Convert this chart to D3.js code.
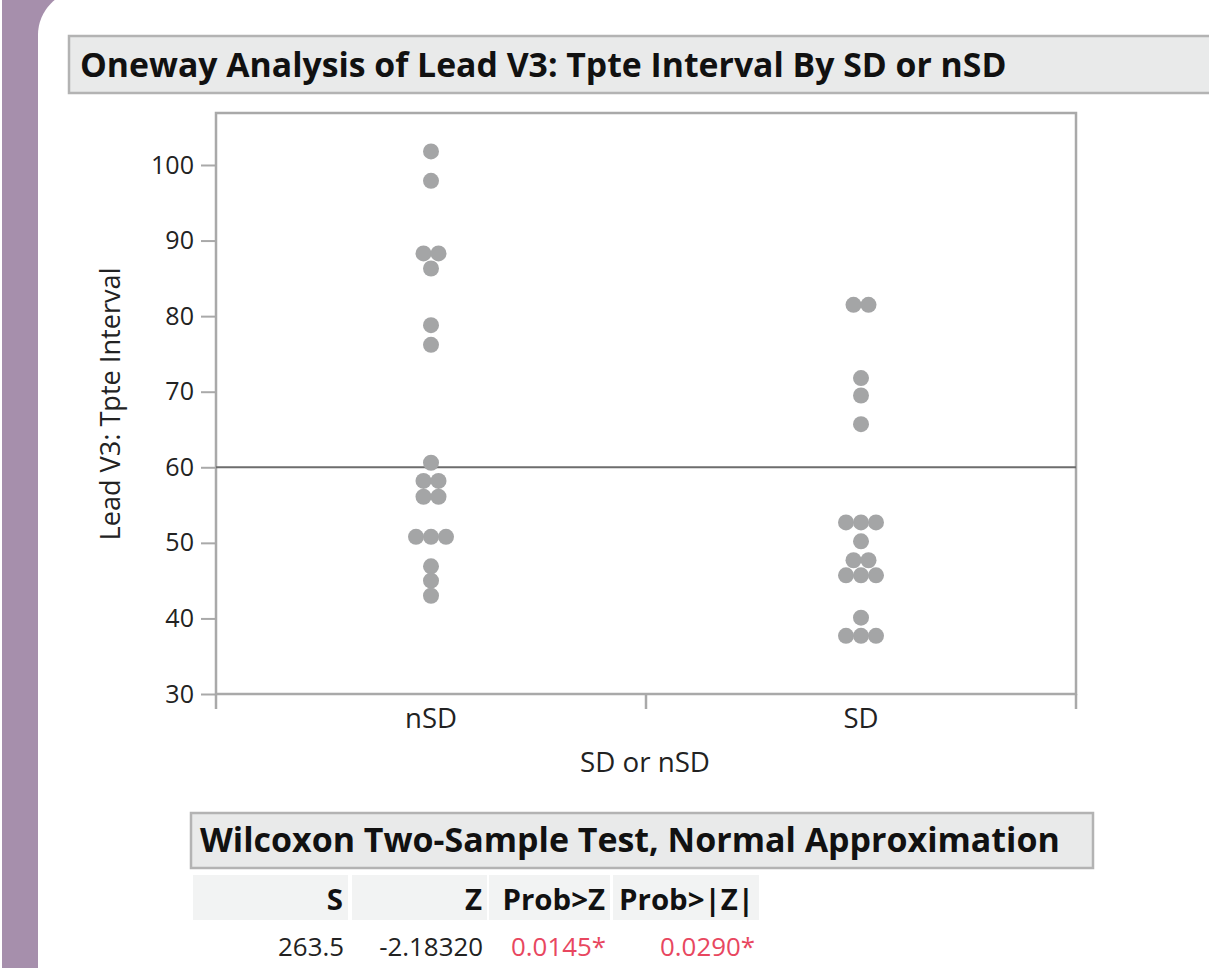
<!DOCTYPE html>
<html>
<head>
<meta charset="utf-8">
<script src="https://cdn.jsdelivr.net/npm/d3@7"></script>
<style>
  html, body { margin: 0; padding: 0; background: #ffffff; }
  svg { display: block; }
  text { font-family: "Open Sans", "Noto Sans", sans-serif; }
</style>
</head>
<body>
<svg id="chart" width="1209" height="968"></svg>
<script>
// ---- data ----
const categories = ["nSD", "SD"];
const nSDValues = [101.8, 97.9, 88.3, 88.3, 86.3, 78.8, 76.2, 60.6, 58.2, 58.2, 56.1, 56.1, 50.8, 50.8, 50.8, 46.9, 45.0, 43.0];
const sdValues  = [81.5, 81.5, 71.8, 69.5, 65.7, 52.7, 52.7, 52.7, 50.2, 47.7, 47.7, 45.7, 45.7, 45.7, 40.1, 37.7, 37.7, 37.7];
const yTicks = [30, 40, 50, 60, 70, 80, 90, 100];
const refLineValue = 60;
const chartTitle = "Oneway Analysis of Lead V3: Tpte Interval By SD or nSD";
const yTitle = "Lead V3: Tpte Interval";
const xTitle = "SD or nSD";
const tableTitle = "Wilcoxon Two-Sample Test, Normal Approximation";
const tableHeaders = ["S", "Z", "Prob>Z", "Prob>|Z|"];
const tableValues = ["263.5", "-2.18320", "0.0145*", "0.0290*"];
const tableSignificant = [false, false, true, true];

// ---- helpers ----
const svg = d3.select("#chart");
function fitWidth(sel, w) {
  const node = sel.node();
  const fs = parseFloat(sel.attr("font-size"));
  const l = node.getComputedTextLength();
  const nfs = fs * w / l;
  sel.attr("font-size", nfs);
  return nfs;
}

// ---- frame decoration (purple side band and white panel) ----
svg.append("rect").attr("x", 0).attr("y", 0).attr("width", 1209).attr("height", 968).attr("fill", "#ffffff");
svg.append("rect").attr("x", 2).attr("y", 0).attr("width", 60).attr("height", 968).attr("fill", "#a68fac");
svg.append("rect").attr("x", 38).attr("y", -10).attr("width", 1300).attr("height", 1060)
  .attr("rx", 45).attr("ry", 45).attr("fill", "#ffffff");

// ---- title bar ----
svg.append("rect").attr("x", 69).attr("y", 36).attr("width", 1160).attr("height", 57)
  .attr("fill", "#e9eaea").attr("stroke", "#b3b3b3").attr("stroke-width", 2.5);
const t1 = svg.append("text").attr("x", 80).attr("y", 77).attr("font-size", 30)
  .attr("font-weight", "bold").attr("fill", "#111").text(chartTitle);
fitWidth(t1, 927);

// ---- scales ----
const plot = { left: 216, right: 1076, top: 113, bottom: 694 };
const x = d3.scaleBand().domain(categories).range([plot.left, plot.right]).padding(0);
const y = d3.scaleLinear().domain([30, 106.88]).range([plot.bottom, plot.top]);

const axisColor = "#a9a9a9";

// y axis
const yAxis = d3.axisLeft(y).tickValues(yTicks).tickSize(15).tickPadding(7).tickFormat(d3.format("d"));
const gy = svg.append("g").attr("transform", `translate(${plot.left},0)`).call(yAxis);
gy.select(".domain").remove();
gy.selectAll(".tick line").attr("stroke", axisColor).attr("stroke-width", 2);
gy.selectAll(".tick text").attr("font-size", 24).attr("fill", "#222").attr("font-family", "Open Sans");
// fit "100" label width
const t100 = gy.selectAll(".tick text").filter(d => d === 100);
const yfs = fitWidth(t100, 43);
gy.selectAll(".tick text").attr("font-size", yfs);

// plot frame
svg.append("rect").attr("x", plot.left).attr("y", plot.top)
  .attr("width", plot.right - plot.left).attr("height", plot.bottom - plot.top)
  .attr("fill", "none").attr("stroke", axisColor).attr("stroke-width", 2.5);

// x axis ticks at band boundaries
const boundaries = [plot.left].concat(categories.map(c => x(c) + x.bandwidth()));
svg.append("g").selectAll("line").data(boundaries).join("line")
  .attr("x1", d => d).attr("x2", d => d)
  .attr("y1", plot.bottom).attr("y2", plot.bottom + 15)
  .attr("stroke", axisColor).attr("stroke-width", 2.5);

// x labels
const xl = svg.append("g").selectAll("text").data(categories).join("text")
  .attr("x", d => x(d) + x.bandwidth() / 2).attr("y", 728)
  .attr("text-anchor", "middle").attr("font-size", 24).attr("fill", "#222").text(d => d);
const xlfs = fitWidth(xl.filter(d => d === "nSD"), 52);
xl.attr("font-size", xlfs);

const xt = svg.append("text").attr("x", 645).attr("y", 772).attr("text-anchor", "middle")
  .attr("font-size", 24).attr("fill", "#222").text(xTitle);
fitWidth(xt, 130);

const yt = svg.append("text").attr("transform", "translate(120,404) rotate(-90)")
  .attr("text-anchor", "middle").attr("font-size", 24).attr("fill", "#222").text(yTitle);
fitWidth(yt, 273);

// reference line
svg.append("line").attr("x1", plot.left).attr("x2", plot.right)
  .attr("y1", y(refLineValue)).attr("y2", y(refLineValue))
  .attr("stroke", "#6d6d6d").attr("stroke-width", 2);

// points: stack equal values side by side
function layout(cat, values) {
  const groups = d3.groups(values, v => v);
  const pts = [];
  groups.forEach(([v, arr]) => {
    arr.forEach((_, i) => pts.push({ cat, v, off: (i - (arr.length - 1) / 2) * 15 }));
  });
  return pts;
}
const points = layout("nSD", nSDValues).concat(layout("SD", sdValues));
svg.append("g").selectAll("circle").data(points).join("circle")
  .attr("cx", d => x(d.cat) + x.bandwidth() / 2 + d.off)
  .attr("cy", d => y(d.v))
  .attr("r", 8)
  .attr("fill", "#a4a5a6");

// ---- Wilcoxon table ----
svg.append("rect").attr("x", 191).attr("y", 813).attr("width", 902).attr("height", 55)
  .attr("fill", "#e9eaea").attr("stroke", "#b3b3b3").attr("stroke-width", 2.5);
const t2 = svg.append("text").attr("x", 200).attr("y", 852).attr("font-size", 32)
  .attr("font-weight", "bold").attr("fill", "#111").text(tableTitle);
fitWidth(t2, 860);

const colLeft = [193, 352, 489, 613];
const colRight = [348, 487, 610, 759];
const cols = d3.range(tableHeaders.length);
svg.append("g").selectAll("rect").data(cols).join("rect")
  .attr("x", i => colLeft[i]).attr("y", 875)
  .attr("width", i => colRight[i] - colLeft[i]).attr("height", 45)
  .attr("fill", "#f2f3f3");
const hdr = svg.append("g").selectAll("text").data(cols).join("text")
  .attr("x", i => colRight[i] - 5).attr("y", 910)
  .attr("text-anchor", "end").attr("font-size", 22).attr("font-weight", "bold")
  .attr("fill", "#111").text(i => tableHeaders[i]);
const hfs = fitWidth(hdr.filter(i => i === 3), 135);
hdr.attr("font-size", hfs);
const vals = svg.append("g").selectAll("text").data(cols).join("text")
  .attr("x", i => colRight[i] - 4).attr("y", 956)
  .attr("text-anchor", "end").attr("font-size", 22)
  .attr("fill", i => tableSignificant[i] ? "#e8475f" : "#222").text(i => tableValues[i]);
const vfs = fitWidth(vals.filter(i => i === 0), 66);
vals.attr("font-size", vfs);
</script>
</body>
</html>
